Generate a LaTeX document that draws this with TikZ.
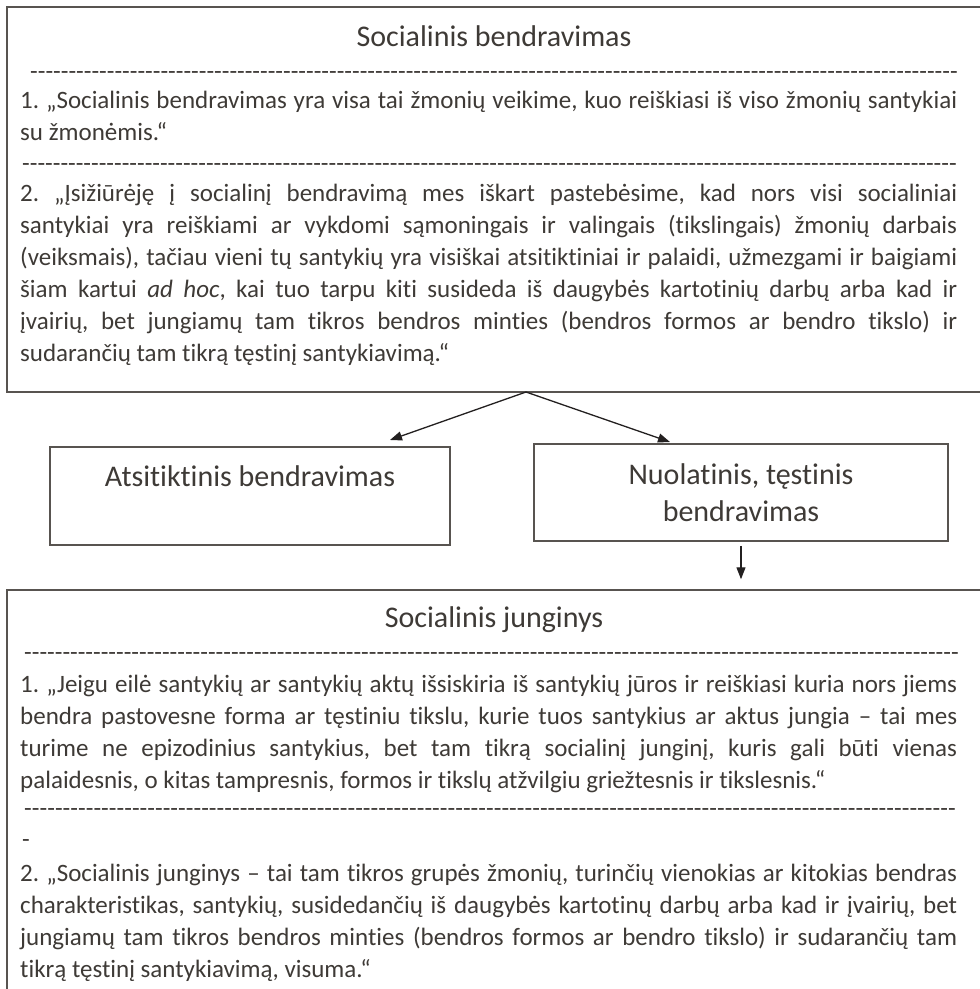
\documentclass[tikz,border=0pt]{standalone}
\usepackage{fontspec}
\setmainfont{Carlito}[Ligatures=NoCommon]
\usetikzlibrary{arrows.meta}
\definecolor{txtc}{RGB}{62,58,54}
\definecolor{bordc}{RGB}{88,84,80}
\definecolor{arrc}{RGB}{35,32,32}
\newcommand\resetsp{\spaceskip=0pt\xspaceskip=0pt\frenchspacing}
\newcommand\jline[1]{{\resetsp\makebox[937pt][s]{#1}}}
\newcommand\hyrow[1]{\hbox to #1{\xleaders\hbox{-}\hfill}}
\frenchspacing
\begin{document}
\begin{tikzpicture}[x=1pt,y=-1pt,
  bigbox/.style={draw=bordc,line width=1.5pt,inner sep=0pt},
  smallbox/.style={draw=bordc,line width=1.5pt,inner sep=0pt,text=txtc,font=\fontsize{30}{37}\selectfont},
  body/.style={text=txtc,font=\fontsize{25}{32}\selectfont,inner sep=0pt,anchor=north west,text width=937pt,align=left},
  title/.style={text=txtc,font=\fontsize{30}{37}\selectfont,inner sep=0pt,anchor=base},
  hy/.style={text=txtc,font=\fontsize{25}{32}\selectfont,inner sep=0pt,anchor=base west},
  arr/.style={draw=arrc,line width=1.3pt,-{Triangle[length=12pt,width=9pt]}}]
\useasboundingbox (0,0) rectangle (980,989);
\clip (0,0) rectangle (980,989);
% top box
\node[bigbox,minimum width=974pt,minimum height=385pt] (topbox) at (494,199.5) {};
\node[title] (t1) at (494,46.5) {Socialinis bendravimas};
\node[hy] (h1) at (30,79) {\hyrow{928pt}};
\node[body] (p1) at (20,85.6) {\noindent\resetsp\strut\jline{1. „Socialinis bendravimas yra visa tai žmonių veikime, kuo reiškiasi iš viso žmonių santykiai}\\
su žmonėmis.“};
\node[hy] (h2) at (22,171) {\hyrow{935pt}};
\node[body] (p2) at (20,178.6) {\noindent\resetsp\strut\jline{2. „Įsižiūrėję į socialinį bendravimą mes iškart pastebėsime, kad nors visi socialiniai}\\
\jline{santykiai yra reiškiami ar vykdomi sąmoningais ir valingais (tikslingais) žmonių darbais}\\
\jline{(veiksmais), tačiau vieni tų santykių yra visiškai atsitiktiniai ir palaidi, užmezgami ir baigiami}\\
\jline{šiam kartui \textit{ad hoc}, kai tuo tarpu kiti susideda iš daugybės kartotinių darbų arba kad ir}\\
\jline{įvairių, bet jungiamų tam tikros bendros minties (bendros formos ar bendro tikslo) ir}\\
sudarančių tam tikrą tęstinį santykiavimą.“};
% middle boxes
\node[smallbox,minimum width=400pt,minimum height=98pt,text height=39.5pt,text depth=58.5pt] (lbox) at (250,496) {Atsitiktinis bendravimas};
\node[smallbox,minimum width=414pt,minimum height=97pt,align=center] (rbox) at (741,492.5) {Nuolatinis, tęstinis\\bendravimas};
% bottom box
\node[bigbox,minimum width=974pt,minimum height=420pt] (botbox) at (494,800) {};
\node[title] (t2) at (494,627.5) {Socialinis junginys};
\node[hy] (h3) at (24,660) {\hyrow{935pt}};
\node[body] (p3) at (20,669.6) {\noindent\resetsp\strut\jline{1. „Jeigu eilė santykių ar santykių aktų išsiskiria iš santykių jūros ir reiškiasi kuria nors jiems}\\
\jline{bendra pastovesne forma ar tęstiniu tikslu, kurie tuos santykius ar aktus jungia – tai mes}\\
\jline{turime ne epizodinius santykius, bet tam tikrą socialinį junginį, kuris gali būti vienas}\\
palaidesnis, o kitas tampresnis, formos ir tikslų atžvilgiu griežtesnis ir tikslesnis.“};
\node[hy] (h4) at (24,816) {\hyrow{932pt}};
\node[hy] (h5) at (22,847) {-};
\node[body] (p4) at (20,858.6) {\noindent\resetsp\strut\jline{2. „Socialinis junginys – tai tam tikros grupės žmonių, turinčių vienokias ar kitokias bendras}\\
\jline{charakteristikas, santykių, susidedančių iš daugybės kartotinų darbų arba kad ir įvairių, bet}\\
\jline{jungiamų tam tikros bendros minties (bendros formos ar bendro tikslo) ir sudarančių tam}\\
tikrą tęstinį santykiavimą, visuma.“};
% connectors
\coordinate (src) at (526,392);
\coordinate (tipL) at (390,440);
\coordinate (tipR) at (670,442);
\draw[arr] (src) -- (tipL);
\draw[arr] (src) -- (tipR);
\draw[arr,shorten <=4pt,shorten >=10pt] (rbox.south) -- (rbox.south |- botbox.north);
\end{tikzpicture}
\end{document}
